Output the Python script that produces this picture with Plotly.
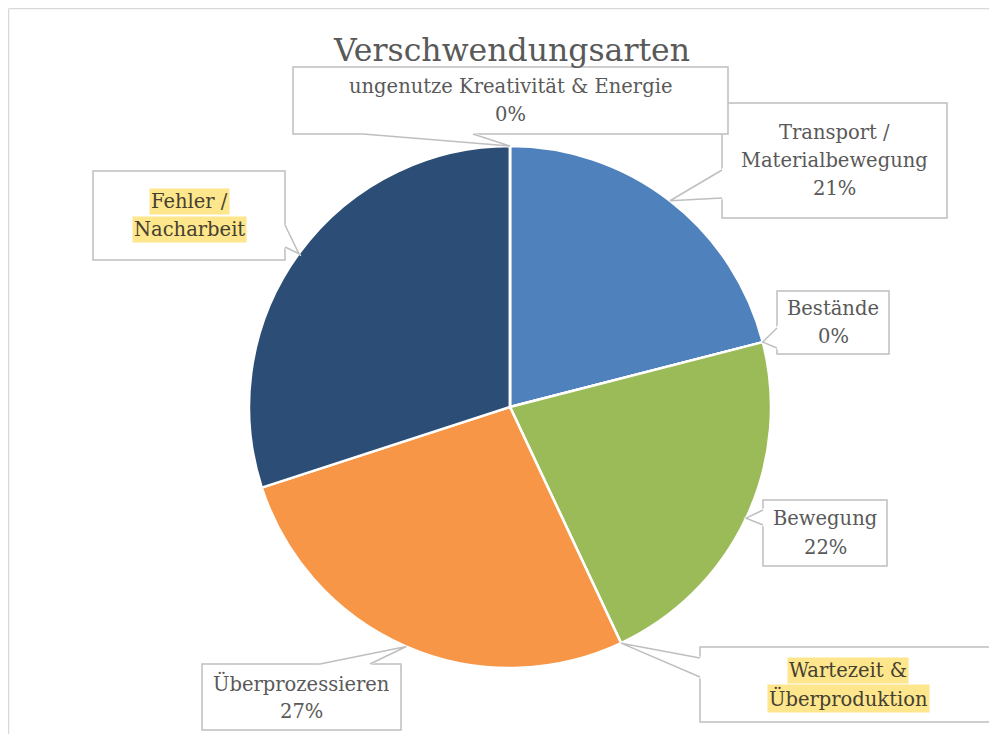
import math
import plotly.graph_objects as go

# ---- data ----
categories = ["Transport /<br>Materialbewegung", "Bestände", "Bewegung",
              "Wartezeit &<br>Überproduktion", "Überprozessieren",
              "Fehler /<br>Nacharbeit", "ungenutze Kreativität & Energie"]
values = [21, 0, 22, 0, 27, 30, 0]
show_pct = [True, True, True, False, True, False, True]
highlighted = [False, False, False, True, False, True, False]
slice_colors = ["#4F81BD", "#C0504D", "#9BBB59", "#8064A2", "#F79646", "#2C4D75", "#4BACC6"]
title_text = "Verschwendungsarten"

# ---- layout geometry (pixels in the 997x734 window) ----
OFF = 8                      # page body margin
W, H = 997 - OFF, 734 - OFF  # figure size
CX, CY, R = 510, 407, 261
FONT = "DejaVu Serif"
TXT = "#595959"
BORDER = "#BFBFBF"
LSP = 28

def px(x):
    return (x - OFF) / W

def py(y):
    return 1 - (y - OFF) / H

# label boxes: (x0, y0, x1, y1) and wedge base points on the box edge
boxes = [
    ((722, 103, 947, 218), ((722, 170), (722, 198))),
    ((777, 291, 889, 354), ((777, 328), (777, 348))),
    ((763, 500, 887, 566), ((763, 510), (763, 525))),
    ((700, 647, 996, 722), ((700, 658), (700, 677))),
    ((202, 664, 401, 730), ((320, 664), (370, 664))),
    ((93, 171, 285, 260), ((285, 225), (285, 247))),
    ((293, 67, 728, 134), ((363, 134), (473, 134))),
]

fig = go.Figure()
fig.add_trace(go.Pie(
    labels=categories, values=values, sort=False, direction="clockwise",
    rotation=0, textinfo="none", hoverinfo="label+percent",
    marker=dict(colors=slice_colors, line=dict(color="white", width=2.5)),
    domain=dict(x=[px(CX - R), px(CX + R)], y=[py(CY + R), py(CY - R)]),
    showlegend=False,
))

shapes = []
annotations = []
# outer frame lines
shapes.append(dict(type="line", xref="paper", yref="paper", x0=0.001, y0=py(8.5), x1=1, y1=py(8.5),
                   line=dict(color="#D9D9D9", width=1.5)))
shapes.append(dict(type="line", xref="paper", yref="paper", x0=px(8.5), y0=py(8.5), x1=px(8.5), y1=0,
                   line=dict(color="#D9D9D9", width=1.5)))

total = sum(values)
cum = 0.0
for i, v in enumerate(values):
    mid = (cum + v / 2) / total
    cum += v
    ang = 2 * math.pi * mid
    tx, ty = CX + R * math.sin(ang), CY - R * math.cos(ang)
    (x0, y0, x1, y1), (b1, b2) = boxes[i]
    shapes.append(dict(type="rect", xref="paper", yref="paper",
                       x0=px(x0), y0=py(y1), x1=px(x1), y1=py(y0),
                       fillcolor="white", line=dict(color=BORDER, width=1.5)))
    # erase border between wedge base points
    shapes.append(dict(type="path", xref="paper", yref="paper",
                       path=f"M {px(b1[0])},{py(b1[1])} L {px(tx)},{py(ty)} L {px(b2[0])},{py(b2[1])} Z",
                       fillcolor="white", line=dict(color="white", width=2.5)))
    shapes.append(dict(type="path", xref="paper", yref="paper",
                       path=f"M {px(b1[0])},{py(b1[1])} L {px(tx)},{py(ty)} L {px(b2[0])},{py(b2[1])}",
                       fillcolor="rgba(0,0,0,0)", line=dict(color=BORDER, width=1.5)))
    bx, by = (x0 + x1) / 2, (y0 + y1) / 2
    pct = f"{round(100 * v / total)}%"
    lines = categories[i].split("<br>")
    if show_pct[i]:
        lines.append(pct)
    n = len(lines)
    for k, ln in enumerate(lines):
        yy = by + (k - (n - 1) / 2) * LSP
        a = dict(x=px(bx), y=py(yy), xref="paper", yref="paper", xanchor="center",
                 yanchor="middle", text=ln, showarrow=False,
                 font=dict(family=FONT, size=19.5, color=TXT))
        if highlighted[i]:
            a["bgcolor"] = "#FDE68C"
            a["borderpad"] = 1
            a["font"]["color"] = "#454030"
        annotations.append(a)

annotations.append(dict(x=px(511), y=py(50), xref="paper", yref="paper", text=title_text,
                        xanchor="center", yanchor="middle",
                        showarrow=False, font=dict(family=FONT, size=31.5, color=TXT)))

fig.update_layout(width=W, height=H, margin=dict(l=0, r=0, t=0, b=0),
                  paper_bgcolor="white", plot_bgcolor="white",
                  shapes=shapes, annotations=annotations)
fig.write_html("out.html")
